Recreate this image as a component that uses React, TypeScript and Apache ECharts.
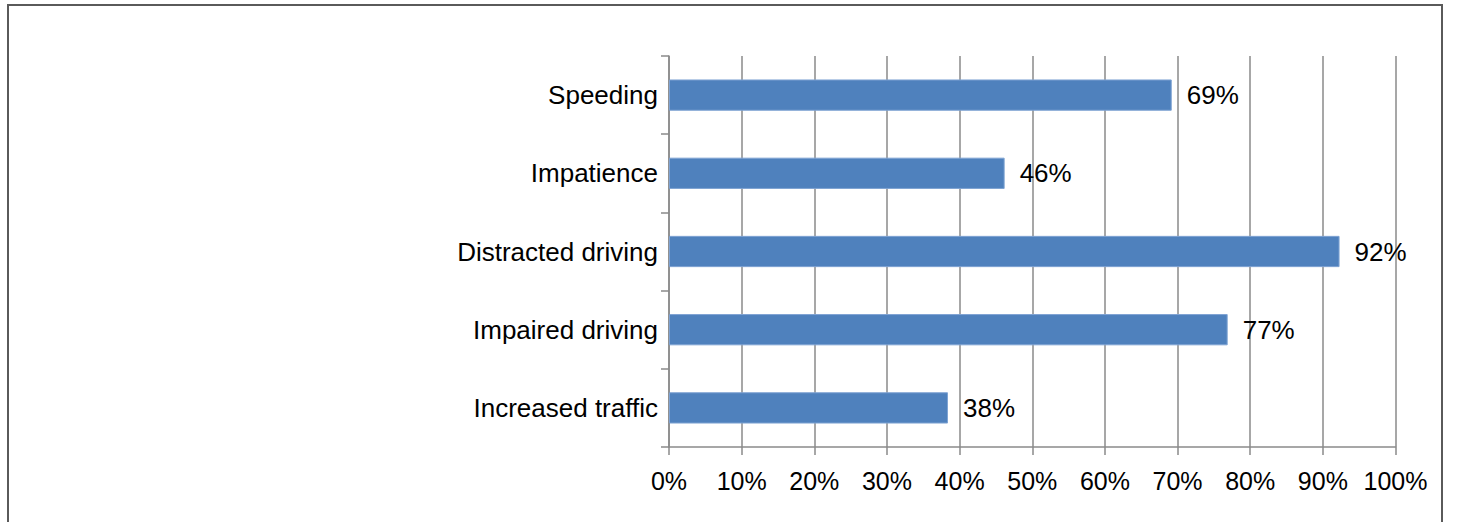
import React, { useEffect, useRef } from "react";
import * as echarts from "echarts";

const categories = ["Increased traffic", "Impaired driving", "Distracted driving", "Impatience", "Speeding"];
const values = [38.4, 76.9, 92.3, 46.2, 69.2];
const xTicks = { min: 0, max: 100, interval: 10 };

const FONT = "'Liberation Sans', Arial, sans-serif";
const GRAY = "#8a8a8a";

export default function App() {
  const ref = useRef<HTMLDivElement>(null);
  useEffect(() => {
    if (!ref.current) return;
    const chart = echarts.init(ref.current, null, { renderer: "svg" });
    chart.setOption({
      animation: false,
      backgroundColor: "#ffffff",
      grid: { left: 669, right: 61.5, top: 56, bottom: 75, containLabel: false },
      xAxis: {
        type: "value",
        min: xTicks.min,
        max: xTicks.max,
        interval: xTicks.interval,
        axisLine: { show: true, lineStyle: { color: GRAY, width: 1.5 } },
        axisTick: { show: true, length: 8, lineStyle: { color: GRAY, width: 1.5 } },
        splitLine: { show: true, lineStyle: { color: GRAY, width: 1.5 } },
        axisLabel: {
          formatter: "{value}%",
          color: "#000",
          fontFamily: FONT,
          fontSize: 25,
          margin: 21,
        },
      },
      yAxis: {
        type: "category",
        data: categories,
        axisLine: { show: true, lineStyle: { color: GRAY, width: 1.5 } },
        axisTick: { show: true, length: 8, lineStyle: { color: GRAY, width: 1.5 } },
        splitLine: { show: false },
        axisLabel: {
          color: "#000",
          fontFamily: FONT,
          fontSize: 26,
          margin: 11,
        },
      },
      series: [
        {
          type: "bar",
          data: values,
          barWidth: "40%",
          itemStyle: { color: "#4F81BD", borderColor: "#7fa3d3", borderWidth: 1 },
          label: {
            show: true,
            position: "right",
            distance: 15,
            color: "#000",
            fontFamily: FONT,
            fontSize: 26,
            formatter: (p: any) => Math.round(p.value) + "%",
          },
        },
      ],
    });
    return () => chart.dispose();
  }, []);
  return (
    <>
      <div
        ref={ref}
        style={{ position: "absolute", left: 0, top: 0, width: 1457, height: 522 }}
      />
      <div
        style={{
          position: "absolute",
          left: 7,
          top: 4,
          width: 1432,
          height: 540,
          border: "2px solid #5a5a5a",
          pointerEvents: "none",
        }}
      />
    </>
  );
}
